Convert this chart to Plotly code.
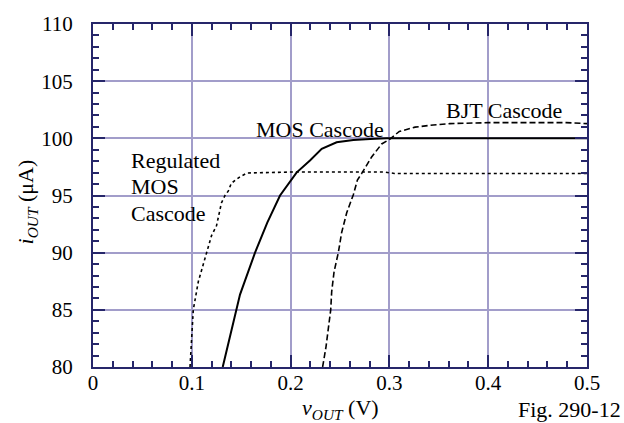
import plotly.graph_objects as go

# Output current vs output voltage for three cascode current sinks
mos_x = [0.1313, 0.1447, 0.1488, 0.1640, 0.1764, 0.1893, 0.1987, 0.2060, 0.2196,
         0.2315, 0.2466, 0.2635, 0.2804, 0.2972, 0.4000, 0.5000]
mos_y = [80.0, 85.0, 86.33, 90.0, 92.63, 95.0, 96.07, 97.0, 98.07,
         99.08, 99.65, 99.85, 99.94, 100.0, 100.0, 100.0]

reg_x = [0.0982, 0.1015, 0.1066, 0.1150, 0.1200, 0.1250, 0.1300, 0.1336, 0.1370,
         0.1400, 0.1490, 0.1560, 0.2000, 0.2500, 0.2950, 0.3050, 0.4000, 0.5000]
reg_y = [80.0, 85.0, 87.47, 90.0, 91.5, 92.35, 94.35, 95.0, 95.4,
         96.07, 96.65, 96.97, 97.05, 97.05, 97.05, 96.93, 96.93, 96.93]

bjt_x = [0.2324, 0.2358, 0.2406, 0.2416, 0.2440, 0.2483, 0.2517, 0.2568, 0.2635,
         0.2676, 0.2720, 0.2820, 0.2922, 0.3006, 0.3100, 0.3260, 0.3444, 0.3610,
         0.4000, 0.4500, 0.4790, 0.5000]
bjt_y = [80.0, 81.74, 85.0, 86.6, 88.33, 90.0, 91.77, 93.49, 95.07,
         96.35, 96.93, 98.37, 99.51, 99.94, 100.6, 100.98, 101.17, 101.29,
         101.37, 101.37, 101.37, 101.29]

x_ticks = [0, 0.1, 0.2, 0.3, 0.4, 0.5]
x_tick_labels = ["0", "0.1", "0.2", "0.3", "0.4", "0.5"]
y_ticks = [80, 85, 90, 95, 100, 105, 110]

SERIF = "Liberation Serif, Times New Roman, serif"
NAVY = "#26266a"
GRID = "#a29dca"

fig = go.Figure()
fig.add_trace(go.Scatter(x=reg_x, y=reg_y, mode="lines",
                         line={"color": "black", "width": 1.6, "dash": "3px,3px"}))
fig.add_trace(go.Scatter(x=mos_x, y=mos_y, mode="lines",
                         line={"color": "black", "width": 2}))
fig.add_trace(go.Scatter(x=bjt_x, y=bjt_y, mode="lines",
                         line={"color": "black", "width": 1.6, "dash": "6px,3px"}))

labels = [
    ("MOS Cascode", 0.2293, 100.8, "center"),
    ("BJT Cascode", 0.416, 102.43, "center"),
    ("Regulated", 0.0364, 98.05, "left"),
    ("MOS", 0.0364, 95.81, "left"),
    ("Cascode", 0.0364, 93.4, "left"),
]
for text, lx, ly, anchor in labels:
    fig.add_annotation(x=lx, y=ly, text=text, showarrow=False, xanchor=anchor,
                       yanchor="middle", font={"family": SERIF, "size": 22, "color": "black"})

fig.add_annotation(xref="paper", yref="paper", x=0.5, y=-0.123,
                   text="<i>v</i><sub><i>OUT</i></sub> (V)", showarrow=False,
                   xanchor="center", yanchor="middle",
                   font={"family": SERIF, "size": 22, "color": "black"})
fig.add_annotation(xref="paper", yref="paper", x=1.073, y=-0.123,
                   text="Fig. 290-12", showarrow=False,
                   xanchor="right", yanchor="middle",
                   font={"family": SERIF, "size": 22, "color": "black"})
fig.add_annotation(xref="paper", yref="paper", x=-0.134, y=0.482,
                   text="<i>i</i><sub><i>OUT</i></sub> (μA)", showarrow=False,
                   textangle=-90, xanchor="center", yanchor="middle",
                   font={"family": SERIF, "size": 22, "color": "black"})

axis_common = {
    "showline": True, "linecolor": NAVY, "linewidth": 2, "mirror": "ticks",
    "ticks": "inside", "ticklen": 12, "tickwidth": 2, "tickcolor": NAVY,
    "showgrid": True, "gridcolor": GRID, "gridwidth": 1.5, "zeroline": False,
    "tickfont": {"family": SERIF, "size": 21, "color": "black"},
}
fig.update_layout(
    width=624, height=423,
    margin={"l": 93, "r": 37, "t": 18, "b": 56},
    paper_bgcolor="white", plot_bgcolor="white",
    showlegend=False,
    xaxis={**axis_common, "range": [0, 0.5], "tickvals": x_ticks,
           "ticktext": x_tick_labels, "ticklabelstandoff": -4,
           "minor": {"dtick": 0.02, "ticks": "inside", "ticklen": 6,
                     "tickwidth": 1.5, "tickcolor": NAVY, "showgrid": False}},
    yaxis={**axis_common, "range": [80, 110], "tickvals": y_ticks,
           "ticklabelstandoff": 14,
           "minor": {"dtick": 1, "ticks": "inside", "ticklen": 6,
                     "tickwidth": 1.5, "tickcolor": NAVY, "showgrid": False}},
)

# drop the browser's default 8px body margin so the figure sits at the page corner
fig.write_html("out.html", config={"displayModeBar": False},
               post_script="document.body.style.margin = '0';")
